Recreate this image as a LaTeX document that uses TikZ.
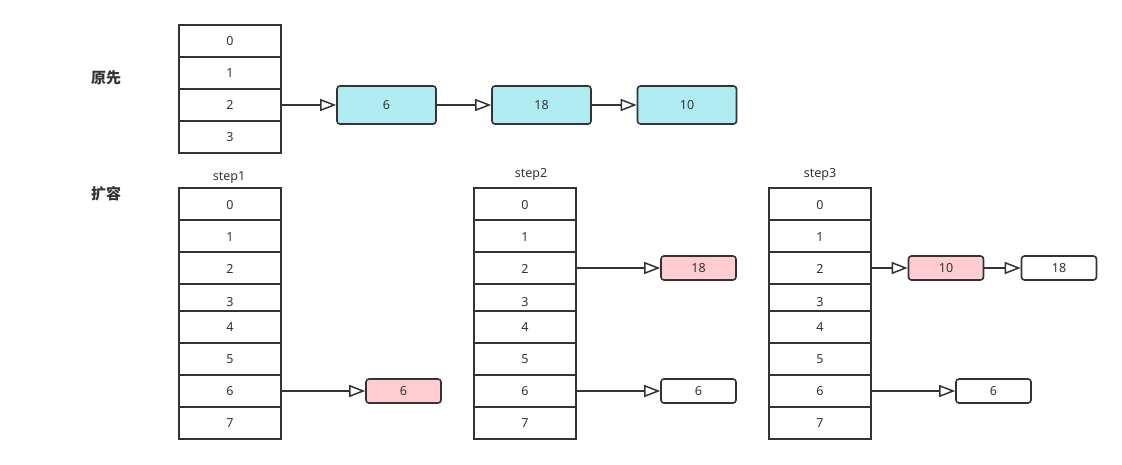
\documentclass[tikz,border=0pt]{standalone}
\usepackage{fontspec}
\setmainfont{Noto Sans}
\newfontfamily\cjk{Noto Sans CJK SC}
\usetikzlibrary{arrows.meta}
\definecolor{strk}{HTML}{333333}
\definecolor{cyanfill}{HTML}{B0EBF2}
\definecolor{pinkfill}{HTML}{FFCCD2}
\begin{document}
\begin{tikzpicture}[x=1pt,y=-1pt,
  cellbox/.style={draw=strk,line width=2pt,fill=white,minimum width=102pt,minimum height=32pt,inner sep=0pt,font=\fontsize{12.5}{12.5}\selectfont,text=strk},
  bigbox/.style={draw=strk,line width=1.6pt,rounded corners=3pt,fill=cyanfill,minimum width=99pt,minimum height=38pt,inner sep=0pt,font=\fontsize{12.5}{12.5}\selectfont,text=strk},
  smallbox/.style={draw=strk,line width=1.6pt,rounded corners=3pt,fill=white,minimum width=75pt,minimum height=24pt,inner sep=0pt,font=\fontsize{12.5}{12.5}\selectfont,text=strk},
  pinkbox/.style={smallbox,fill=pinkfill},
  link/.style={draw=strk,line width=1.5pt,-{Triangle[open,length=16pt,width=12pt,fill=white]}},
  steplabel/.style={font=\fontsize{12.5}{12.5}\selectfont,text=strk},
  title/.style={font=\cjk\bfseries\fontsize{15}{15}\selectfont,text=strk}]
\useasboundingbox (0,0) rectangle (1122,464);
% titles
\node[title] (t1) at (106,78) {原先};
\node[title] (t2) at (106,194) {扩容};
% original array
\foreach \i in {0,...,3} {
  \node[cellbox] (a\i) at (230,{41+32*\i}) {\i};
}
\node[bigbox] (b6) at (386.5,105) {6};
\node[bigbox] (b18) at (541.5,105) {18};
\node[bigbox] (b10) at (687,105) {10};
\draw[link] (a2.east) -- (b6.west);
\draw[link] (b6.east) -- (b18.west);
\draw[link] (b18.east) -- (b10.west);
% expanded arrays
\foreach \s/\x in {1/230,2/525,3/820} {
  \foreach \i in {0,...,3} {
    \node[cellbox] (s\s c\i) at (\x,{204+32*\i}) {};
  }
  \foreach \i in {4,...,7} {
    \node[cellbox] (s\s c\i) at (\x,{327+32*(\i-4)}) {\i};
  }
  \foreach \i/\yy in {0/205,1/237,2/269,3/302} {
    \node[font=\fontsize{12.5}{12.5}\selectfont,text=strk] at (\x,\yy) {\i};
  }
}
\node[steplabel] (l1) at (229,178) {step1};
\node[steplabel] (l2) at (531,174) {step2};
\node[steplabel] (l3) at (820,174) {step3};
% step1
\node[pinkbox] (p1) at (403.5,391) {6};
\draw[link] (s1c6.east) -- (p1.west);
% step2
\node[pinkbox] (p2) at (698.5,268) {18};
\node[smallbox] (w2) at (698.5,391) {6};
\draw[link] (s2c2.east) -- (p2.west);
\draw[link] (s2c6.east) -- (w2.west);
% step3
\node[pinkbox] (p3) at (946,268) {10};
\node[smallbox] (w3a) at (1059,268) {18};
\node[smallbox] (w3b) at (993.5,391) {6};
\draw[link] (s3c2.east) -- (p3.west);
\draw[link] (p3.east) -- (w3a.west);
\draw[link] (s3c6.east) -- (w3b.west);
\end{tikzpicture}
\end{document}
